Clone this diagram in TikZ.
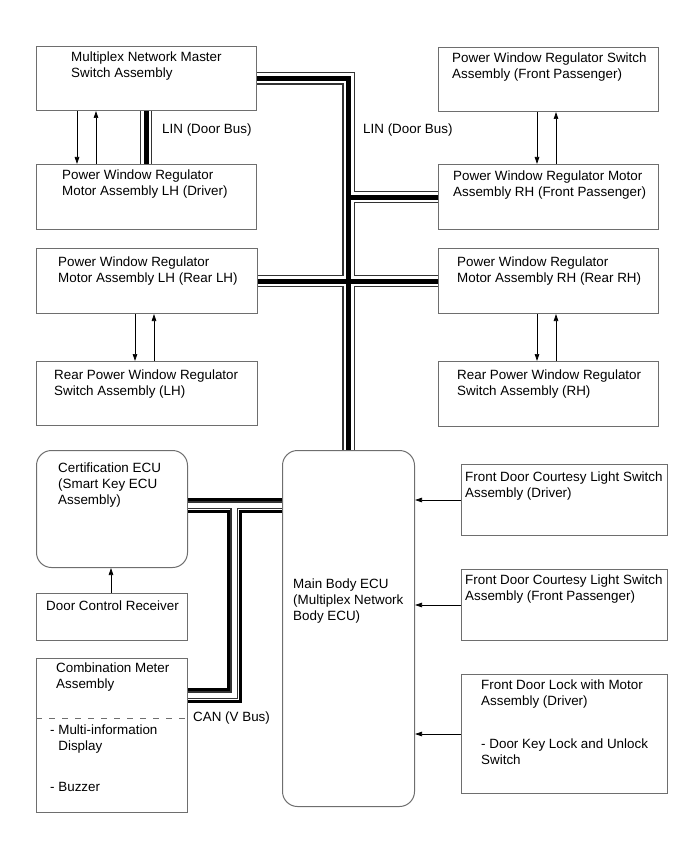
\documentclass[tikz,border=0pt]{standalone}
\usepackage{fontspec}
\setmainfont{Liberation Sans}
\usetikzlibrary{arrows.meta}
\definecolor{framegray}{HTML}{6E6E6E}

\begin{document}
\begin{tikzpicture}[
    x=1pt,
    y=-1pt,
    font=\fontsize{13.4}{16}\selectfont,
    unit/.style={
        draw=framegray,
        line width=1pt,
        anchor=north west,
        inner sep=0pt
    },
    ecu/.style={
        unit,
        rounded corners=15pt
    },
    txt/.style={
        anchor=north west,
        align=left,
        inner sep=0pt
    },
    buslabel/.style={
        anchor=west,
        inner sep=0pt
    },
    sig/.style={
        -{Triangle[length=7pt,width=4.5pt]},
        draw=black,
        line width=0.7pt
    },
    linbus/.style={
        draw=black,
        line width=5pt,
        line join=miter,
        preaction={draw=black!80, line width=12.5pt, line join=miter},
        preaction={draw=white, line width=10pt, line join=miter}
    },
    canbus/.style={
        draw=white,
        line width=5pt,
        line join=miter,
        preaction={draw=black, line width=15pt, line join=miter},
        preaction={draw=white, line width=9pt, line join=miter},
        preaction={draw=black!80, line width=7.2pt, line join=miter}
    },
    divider/.style={
        draw=framegray,
        line width=0.7pt,
        dash pattern=on 6pt off 7pt
    }
]

\useasboundingbox (0,0) rectangle (690,853);

% -----------------------------------------------------
% Door units
% -----------------------------------------------------

\node[unit, minimum width=220, minimum height=64,
    label={[txt, xshift=35, yshift=-6]north west:{Multiplex Network Master\\Switch Assembly}}]
    (master) at (36,46) {};

\node[unit, minimum width=220, minimum height=65,
    label={[txt, xshift=26, yshift=-6]north west:{Power Window Regulator\\Motor Assembly LH (Driver)}}]
    (drvmotor) at (36,164) {};

\node[unit, minimum width=220, minimum height=64,
    label={[txt, xshift=14, yshift=-6]north west:{Power Window Regulator Switch\\Assembly (Front Passenger)}}]
    (fpswitch) at (438,47) {};

\node[unit, minimum width=220, minimum height=65,
    label={[txt, xshift=15, yshift=-7]north west:{Power Window Regulator Motor\\Assembly RH (Front Passenger)}}]
    (fpmotor) at (438,164) {};

\node[unit, minimum width=221, minimum height=65,
    label={[txt, xshift=22, yshift=-9]north west:{Power Window Regulator\\Motor Assembly LH (Rear LH)}}]
    (rlhmotor) at (36,248) {};

\node[unit, minimum width=221, minimum height=64,
    label={[txt, xshift=18, yshift=-9]north west:{Rear Power Window Regulator\\Switch Assembly (LH)}}]
    (rlhswitch) at (36,361) {};

\node[unit, minimum width=220, minimum height=65,
    label={[txt, xshift=19, yshift=-9]north west:{Power Window Regulator\\Motor Assembly RH (Rear RH)}}]
    (rrhmotor) at (438,248) {};

\node[unit, minimum width=220, minimum height=65,
    label={[txt, xshift=19, yshift=-9]north west:{Rear Power Window Regulator\\Switch Assembly (RH)}}]
    (rrhswitch) at (438,361) {};

% -----------------------------------------------------
% ECUs and body side units
% -----------------------------------------------------

\node[ecu, minimum width=151, minimum height=117,
    label={[txt, xshift=22, yshift=-13]north west:{Certification ECU\\(Smart Key ECU\\Assembly)}}]
    (cert) at (36,450) {};

\node[unit, minimum width=151, minimum height=47,
    label={[txt, xshift=10, yshift=-8]north west:{Door Control Receiver}}]
    (doorrx) at (36,593) {};

\node[unit, minimum width=151, minimum height=154,
    label={[txt, xshift=20, yshift=-5]north west:{Combination Meter\\Assembly}},
    label={[txt, xshift=14, yshift=-67]north west:{- Multi-information\\\phantom{- }Display\\[25pt]- Buzzer}}]
    (combo) at (36,658) {};

\node[ecu, minimum width=132, minimum height=356,
    label={[txt, xshift=11, yshift=-129]north west:{Main Body ECU\\(Multiplex Network\\Body ECU)}}]
    (main) at (282,450) {};

\node[unit, minimum width=206, minimum height=71,
    label={[txt, xshift=4, yshift=-8]north west:{Front Door Courtesy Light Switch\\Assembly (Driver)}}]
    (cdrv) at (461,464) {};

\node[unit, minimum width=206, minimum height=71,
    label={[txt, xshift=4, yshift=-6]north west:{Front Door Courtesy Light Switch\\Assembly (Front Passenger)}}]
    (cfp) at (461,569) {};

\node[unit, minimum width=206, minimum height=119,
    label={[txt, xshift=20, yshift=-6]north west:{Front Door Lock with Motor\\Assembly (Driver)\\[27pt]- Door Key Lock and Unlock\\Switch}}]
    (lock) at (461,674) {};

\draw[divider] ([yshift=-60]combo.north west) -- ([yshift=-60]combo.north east);

% -----------------------------------------------------
% Busleitungen
% -----------------------------------------------------

\draw[linbus]
    (master.east) -| (main.north)
    (fpmotor.west) -- (fpmotor.west -| main.north)
    (rlhmotor.east) -- (rrhmotor.west)
    ([xshift=110]master.south west) -- ([xshift=110]drvmotor.north west);

\coordinate (cantee) at (234,504);

\draw[canbus]
    ([yshift=4]cert.east) -- ([yshift=4]cert.east -| main.west)
    (cantee) |- ([yshift=-37]combo.north east);

\node[buslabel] (linmaster) at (162,130) {LIN (Door Bus)};
\node[buslabel] (lintrunk) at (363,130) {LIN (Door Bus)};
\node[buslabel] (canlabel) at (193,718) {CAN (V Bus)};

% -----------------------------------------------------
% Signalleitungen
% -----------------------------------------------------

\draw[sig] ([xshift=41]master.south west) -- ([xshift=41]drvmotor.north west);
\draw[sig] ([xshift=60]drvmotor.north west) -- ([xshift=60]master.south west);

\draw[sig] ([xshift=99]fpswitch.south west) -- ([xshift=99]fpmotor.north west);
\draw[sig] ([xshift=118]fpmotor.north west) -- ([xshift=118]fpswitch.south west);

\draw[sig] ([xshift=99]rlhmotor.south west) -- ([xshift=99]rlhswitch.north west);
\draw[sig] ([xshift=118]rlhswitch.north west) -- ([xshift=118]rlhmotor.south west);

\draw[sig] ([xshift=99]rrhmotor.south west) -- ([xshift=99]rrhswitch.north west);
\draw[sig] ([xshift=118]rrhswitch.north west) -- ([xshift=118]rrhmotor.south west);

\draw[sig] ([xshift=75]doorrx.north west) -- ([xshift=75]cert.south west);

\draw[sig] (cdrv.west) -- (cdrv.west -| main.east);
\draw[sig] (cfp.west) -- (cfp.west -| main.east);
\draw[sig] (lock.west) -- (lock.west -| main.east);

\end{tikzpicture}
\end{document}
